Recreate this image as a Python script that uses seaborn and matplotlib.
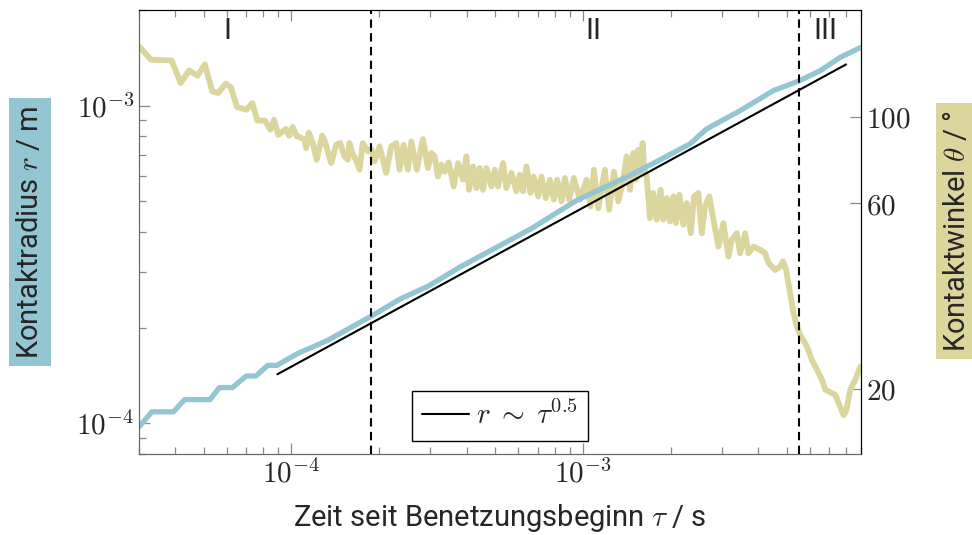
import matplotlib
matplotlib.use('Agg')
import pandas as pd
import matplotlib.pyplot as plt
import seaborn as sns
from matplotlib.ticker import LogLocator, NullLocator, NullFormatter

# Kontaktradius r over time tau
tau_r = [3.00e-5, 3.32e-5, 3.94e-5, 4.30e-5, 5.26e-5, 5.66e-5, 6.28e-5, 6.99e-5, 7.56e-5, 8.29e-5,
         8.93e-5, 9.33e-5, 1.065e-4, 1.184e-4, 1.332e-4, 1.883e-4, 2.350e-4, 2.98e-4, 3.78e-4, 6.66e-4,
         9.51e-4, 1.451e-3, 1.839e-3, 2.332e-3, 2.661e-3, 3.463e-3, 4.508e-3, 5.54e-3, 6.52e-3, 7.64e-3,
         9.0e-3]
radius = [0.973e-4, 1.086e-4, 1.086e-4, 1.187e-4, 1.187e-4, 1.295e-4, 1.295e-4, 1.408e-4, 1.408e-4, 1.521e-4,
          1.521e-4, 1.559e-4, 1.668e-4, 1.738e-4, 1.824e-4, 2.175e-4, 2.455e-4, 2.716e-4, 3.10e-4, 4.10e-4,
          5.03e-4, 6.03e-4, 6.75e-4, 7.58e-4, 8.45e-4, 9.64e-4, 1.115e-3, 1.198e-3, 1.288e-3, 1.419e-3,
          1.526e-3]

# Kontaktwinkel theta over time tau
tau_theta = [
    3.00e-5, 3.30e-5, 3.88e-5, 4.17e-5, 4.46e-5, 4.76e-5, 5.05e-5, 5.35e-5, 5.61e-5, 5.95e-5,
    6.19e-5, 6.51e-5, 7.02e-5, 7.34e-5, 7.64e-5, 8.12e-5, 8.47e-5, 8.72e-5, 9.02e-5, 9.56e-5,
    9.82e-5, 1.010e-4, 1.043e-4,
    1.065e-4, 1.108e-4, 1.123e-4, 1.147e-4, 1.184e-4, 1.221e-4, 1.275e-4, 1.309e-4, 1.369e-4, 1.424e-4,
    1.471e-4, 1.521e-4, 1.561e-4, 1.582e-4, 1.617e-4, 1.659e-4, 1.713e-4, 1.758e-4, 1.829e-4, 1.879e-4,
    1.928e-4, 2.006e-4, 2.115e-4, 2.201e-4, 2.290e-4, 2.350e-4, 2.426e-4, 2.509e-4, 2.578e-4, 2.695e-4,
    2.826e-4, 2.940e-4, 3.020e-4, 3.100e-4, 3.183e-4, 3.269e-4, 3.356e-4, 3.464e-4, 3.604e-4, 3.729e-4,
    3.879e-4, 3.984e-4, 4.067e-4,
    4.198e-4, 4.313e-4, 4.426e-4, 4.543e-4, 4.668e-4, 4.856e-4, 4.984e-4, 5.116e-4, 5.322e-4, 5.467e-4,
    5.689e-4, 5.919e-4, 6.075e-4, 6.235e-4, 6.405e-4, 6.611e-4, 6.786e-4, 7.021e-4, 7.212e-4, 7.462e-4,
    7.702e-4, 7.949e-4, 8.160e-4, 8.449e-4, 8.672e-4, 8.973e-4, 9.314e-4, 9.766e-4, 1.030e-3, 1.063e-3,
    1.091e-3, 1.129e-3, 1.190e-3, 1.231e-3, 1.278e-3, 1.322e-3, 1.376e-3,
    1.413e-3, 1.451e-3, 1.489e-3, 1.521e-3, 1.549e-3, 1.570e-3, 1.604e-3, 1.620e-3, 1.655e-3, 1.676e-3,
    1.699e-3, 1.744e-3, 1.792e-3, 1.849e-3, 1.888e-3, 1.940e-3, 1.991e-3, 2.044e-3, 2.088e-3, 2.143e-3,
    2.212e-3, 2.272e-3, 2.345e-3, 2.407e-3, 2.490e-3, 2.558e-3, 2.625e-3, 2.716e-3, 2.804e-3, 2.917e-3,
    3.034e-3, 3.157e-3, 3.243e-3, 3.374e-3, 3.463e-3, 3.604e-3, 3.699e-3, 3.848e-3,
    4.057e-3, 4.221e-3, 4.334e-3, 4.568e-3, 4.754e-3, 4.857e-3, 4.984e-3, 5.144e-3, 5.281e-3, 5.426e-3,
    5.569e-3, 5.872e-3, 6.108e-3, 6.355e-3, 6.611e-3, 6.786e-3, 7.155e-3, 7.345e-3, 7.540e-3, 7.846e-3,
    8.012e-3, 8.270e-3, 8.604e-3, 8.951e-3,
]
theta = [
    151.6, 140.1, 139.5, 122.1, 131.5, 127.5, 136.3, 116.2, 115.1, 121.6,
    119.2, 105.9, 104.2, 108.4, 97.8, 97.7, 92.6, 98.2, 89.9, 93.0,
    89.4, 94.1, 89.0,
    88.7, 87.3, 83.1, 91.1, 85.6, 77.5, 89.4, 85.6, 76.0, 84.7,
    85.6, 79.1, 77.5, 85.6, 80.7, 77.8, 73.1, 85.6, 81.4, 82.6,
    76.8, 83.9, 71.7, 83.9, 85.6, 73.1, 84.7, 73.1, 86.4, 73.1,
    87.6, 73.8, 80.7, 79.1, 70.2, 75.3, 72.3, 76.3, 66.2, 76.0,
    68.9, 79.1, 64.9,
    74.5, 65.6, 73.8, 64.9, 73.8, 66.2, 73.1, 66.2, 76.0, 65.6,
    71.7, 64.3, 70.9, 64.3, 74.5, 63.7, 70.2, 62.4, 70.2, 61.8,
    68.9, 61.2, 68.9, 60.6, 69.6, 61.2, 69.6, 61.2, 68.9, 58.8,
    73.1, 58.2, 73.1, 57.7, 72.3, 60.6, 68.9,
    79.1, 64.9, 80.7, 68.9, 82.2, 71.7, 85.6, 74.5, 70.2, 62.4,
    54.9, 63.7, 54.4, 64.9, 54.4, 61.8, 53.8, 62.4, 53.3, 63.0,
    52.8, 60.0, 50.2, 62.4, 63.7, 50.2, 58.8, 62.4, 54.4, 46.4,
    53.3, 43.7, 48.3, 50.2, 44.6, 50.2, 44.6, 46.4,
    45.5, 44.6, 42.1, 40.4, 41.2, 42.5, 40.4, 35.2, 31.3, 28.9,
    27.5, 25.7, 23.7, 22.4, 21.1, 19.9, 19.5, 19.3, 18.4, 17.1,
    17.6, 19.9, 21.1, 22.8,
]

# power law r ~ tau^0.5
fit_tau = [8.95e-5, 8.0e-3]
fit_r = [1.426e-4, 1.348e-3]

# boundaries between regions I / II / III
region_bounds = [1.88e-4, 5.52e-3]
region_names = ['I', 'II', 'III']

blue = '#94c5d2'
tan = '#dbd59e'

sns.set_style('ticks')
plt.rcParams['font.family'] = ['Roboto', 'DejaVu Sans']
plt.rcParams['mathtext.fontset'] = 'cm'
fs = 21

r_df = pd.DataFrame({'tau': tau_r, 'r': radius})
th_df = pd.DataFrame({'tau': tau_theta, 'theta': theta})
fit_df = pd.DataFrame({'tau': fit_tau, 'r': fit_r})

fig = plt.figure(figsize=(9.72, 5.35), dpi=100)
ax = fig.add_axes([0.143, 0.1514, 0.7428, 0.8299])
ax2 = ax.twinx()

# contact angle on the right axis, drawn behind
sns.lineplot(data=th_df, x='tau', y='theta', ax=ax2, color=tan, lw=4.2,
             estimator=None, sort=False)
ax2.set_yscale('log')
ax2.set_ylim(13.6, 188)
ax2.yaxis.set_minor_locator(NullLocator())
ax2.set_yticks([20, 60, 100], labels=['$20$', '$60$', '$100$'])
ax2.set_ylabel('')

# contact radius on the left axis
ax.set_zorder(ax2.get_zorder() + 1)
ax.patch.set_visible(False)
sns.lineplot(data=r_df, x='tau', y='r', ax=ax, color=blue, lw=3.8,
             estimator=None, sort=False)
sns.lineplot(data=fit_df, x='tau', y='r', ax=ax, color='black', lw=1.5,
             estimator=None, sort=False, label=r'$r\;\sim\;\tau^{0.5}$')
for xb in region_bounds:
    ax.axvline(xb, color='black', lw=1.5, ls=(0, (4, 2.6)))

ax.set_xscale('log')
ax.set_yscale('log')
ax.set_xlim(3e-5, 9e-3)
ax.set_ylim(8e-5, 2e-3)
ax.set_xticks([1e-4, 1e-3], labels=[r'$10^{-4}$', r'$10^{-3}$'])
ax.set_yticks([1e-4, 1e-3], labels=[r'$10^{-4}$', r'$10^{-3}$'])
ax.xaxis.set_minor_locator(LogLocator(base=10, subs=range(2, 10), numticks=20))
ax.yaxis.set_minor_locator(LogLocator(base=10, subs=range(2, 10), numticks=20))
ax.xaxis.set_minor_formatter(NullFormatter())
ax.yaxis.set_minor_formatter(NullFormatter())

ax.tick_params(which='both', direction='in', top=True, right=False, color='#888888',
               labelsize=fs, width=0.9)
ax.tick_params(which='major', length=8)
ax.tick_params(which='minor', length=5)
ax2.tick_params(which='both', direction='in', color='#888888', labelsize=fs,
                length=8, width=0.9)

for a in (ax, ax2):
    a.spines['left'].set_color('#666666')
    a.spines['bottom'].set_color('#666666')
    a.spines['top'].set_color('black')
    a.spines['right'].set_color('black')

ax.set_xlabel(r'Zeit seit Benetzungsbeginn $\tau$ / s', fontsize=fs, labelpad=10)
ax.set_ylabel('')

for name, xp in zip(region_names, [0.123, 0.629, 0.950]):
    ax.text(xp, 0.985, name, transform=ax.transAxes, ha='center', va='top', fontsize=fs)

leg = ax.legend(loc='lower center', bbox_to_anchor=(0.5, 0.03), fontsize=fs,
                fancybox=False, edgecolor='black', framealpha=1, handlelength=1.6,
                handletextpad=0.25, borderpad=0.35, borderaxespad=0)
leg.get_frame().set_linewidth(1.0)

fig.text(0.031, 0.566, r'Kontaktradius $r$ / m', rotation=90, ha='center', va='center',
         fontsize=fs, bbox=dict(boxstyle='square,pad=0.25', fc=blue, ec='none'))
fig.text(0.985, 0.568, r'Kontaktwinkel $\theta$ / °', rotation=90, ha='center', va='center',
         fontsize=fs, bbox=dict(boxstyle='square,pad=0.25', fc=tan, ec='none'))

fig.savefig('out.png', dpi=100)
